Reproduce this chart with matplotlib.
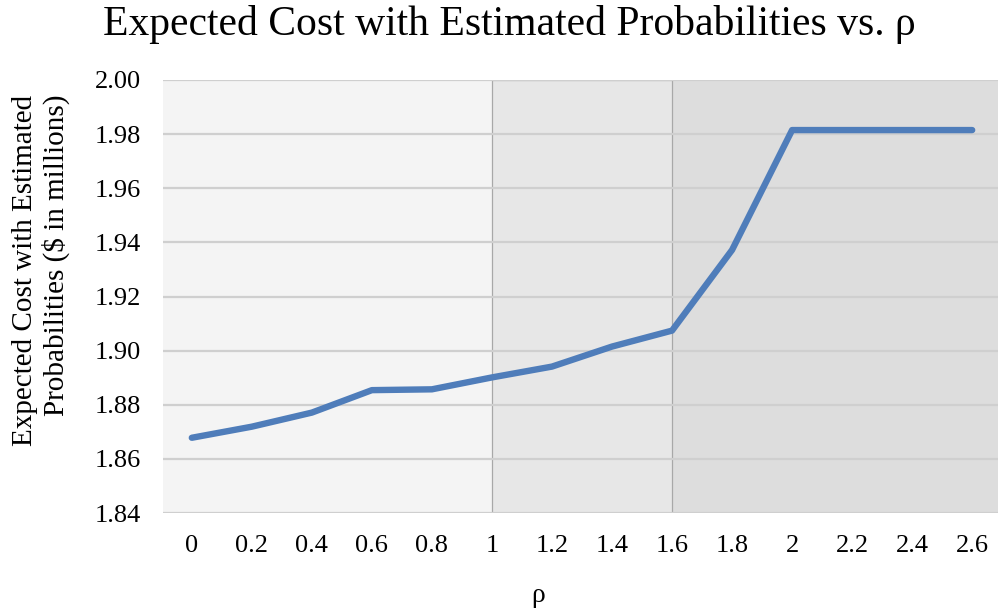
import matplotlib
matplotlib.use("Agg")
import matplotlib.pyplot as plt
from matplotlib.patches import Rectangle

rho_labels = ["0", "0.2", "0.4", "0.6", "0.8", "1", "1.2", "1.4", "1.6",
              "1.8", "2", "2.2", "2.4", "2.6"]
expected_cost = [1.8678, 1.8719, 1.8771, 1.8854, 1.8857, 1.8901, 1.8941,
                 1.9015, 1.9074, 1.9372, 1.9815, 1.9815, 1.9815, 1.9815]
y_ticks = [1.84, 1.86, 1.88, 1.90, 1.92, 1.94, 1.96, 1.98, 2.00]

plt.rcParams["font.family"] = ["Liberation Serif", "DejaVu Serif"]

fig = plt.figure(figsize=(9.99, 6.13), dpi=100)
W, H = 999, 613
left, right, top, bottom = 163, 998, 80, 513
ax = fig.add_axes([left / W, 1 - bottom / H, (right - left) / W, (bottom - top) / H])

x = list(range(len(rho_labels)))
x_lo, x_hi = -0.48, 13.43
ax.set_xlim(x_lo, x_hi)
ax.set_ylim(1.84, 2.00)

# shaded regimes
i1 = rho_labels.index("1")
i16 = rho_labels.index("1.6")
ax.add_patch(Rectangle((x_lo, 1.84), i1 - x_lo, 0.16, facecolor="#F4F4F4",
                       edgecolor="none", zorder=0))
ax.add_patch(Rectangle((i1, 1.84), i16 - i1, 0.16, facecolor="#E7E7E7",
                       edgecolor="#A8A8A8", linewidth=0.9, zorder=0.5))
ax.add_patch(Rectangle((i16, 1.84), x_hi - i16, 0.16, facecolor="#DDDDDD",
                       edgecolor="none", zorder=0))

for yv in y_ticks:
    ax.axhline(yv, color="#CFCFCF", linewidth=1.6, zorder=1)

ax.plot(x, expected_cost, color="#4F7DBA", linewidth=4.6,
        solid_capstyle="round", solid_joinstyle="round", zorder=3)

ax.set_xticks(x)
ax.set_xticklabels(rho_labels)
ax.set_yticks(y_ticks)
ax.set_yticklabels([f"{v:.2f}" for v in y_ticks])
ax.tick_params(axis="both", length=0, labelsize=19)
ax.tick_params(axis="x", pad=16)
ax.tick_params(axis="y", pad=16)
for s in ax.spines.values():
    s.set_visible(False)

fig.text(538 / W, 1 - 596 / H, "ρ", fontsize=20, ha="center", va="center")
fig.text(41 / W, 1 - 270 / H,
         "Expected Cost with Estimated\nProbabilities ($ in millions)",
         rotation=90, ha="center", va="center", multialignment="right",
         fontsize=21, linespacing=1.15)
fig.text(509.5 / W, 1 - 35 / H, "Expected Cost with Estimated Probabilities vs. ρ",
         fontsize=30, ha="center", va="baseline")

fig.savefig("out.png", dpi=100, facecolor="white")
